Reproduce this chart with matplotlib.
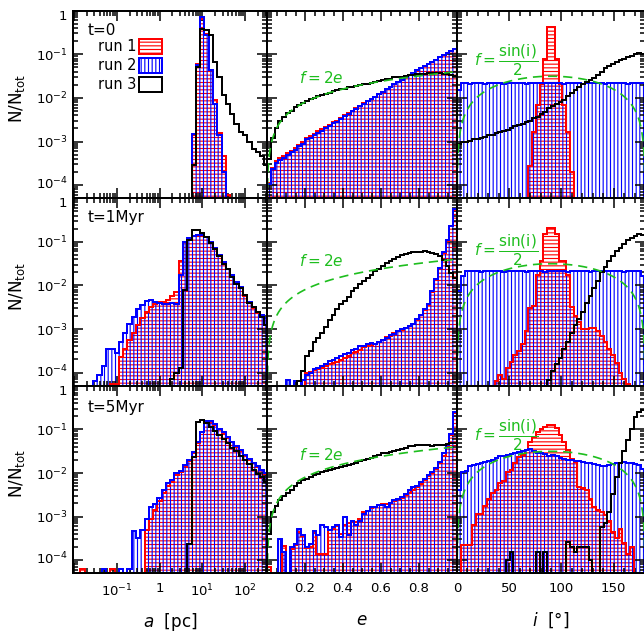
import numpy as np
import matplotlib
matplotlib.use("Agg")
import matplotlib.pyplot as plt
from matplotlib.patches import Rectangle
from matplotlib.transforms import ScaledTranslation
from matplotlib.ticker import FixedLocator, MultipleLocator, LogLocator, FuncFormatter, NullFormatter

DPI = 110
plt.rcParams['font.family'] = ['DejaVu Sans']
plt.rcParams['mathtext.fontset'] = 'dejavusans'
plt.rcParams['hatch.linewidth'] = 0.75

FLOOR = 1e-9          # empty bins sit far below the axis
A_BIN = 0.1           # dex
E_BIN = 0.02
I_BIN = 3.6           # degrees

# log10(N/Ntot) per bin, None = empty bin
# semimajor axis, bin centres log10(a) = -2.0 ... 2.5
a_t0_run1 = [None] * 28 + [-2.85, -1.22, -0.18, -0.54, -1.35, -2.05, -2.8, -3.33, -4.23]
a_t0_run2 = [None] * 28 + [-2.83, -1.25, -0.15, -0.56, -1.37, -2.13, -2.86, -3.71]
a_t0_run3 = [None] * 28 + [-3.55, -1.3, -0.43, -0.45, -0.56, -1.17, -1.52, -1.94, -2.13, -2.37,
                           -2.6, -2.79, -2.86, -3.02, -3.17, -3.25, -3.33, -3.55]

a_t1_run1 = [None] * 9 + [-4.25, -4.25, -3.65, -3.45, -3.25, -3.1, -2.9, -2.75, -2.6, -2.5,
                          -2.42, -2.38, -2.37, -2.33, -2.25, -2.15, -1.45, -1.0, -0.93, -0.87,
                          -0.84, -0.84, -0.9, -1.01, -1.17, -1.32, -1.47, -1.63, -1.78, -1.94,
                          -2.05, -2.24, -2.4, -2.51, -2.63, -2.7, -2.75]
a_t1_run2 = [None] * 5 + [-4.2, -4.05, -3.85, -3.45, -3.45, -3.55, -3.3, -3.1, -2.88, -2.72,
                          -2.55, -2.45, -2.35, -2.33, -2.38, -2.4, -2.42, -2.42, -2.4, -2.42,
                          -1.75, -1.0, -0.92, -0.86, -0.84, -0.84, -0.9, -1.0, -1.15, -1.3,
                          -1.46, -1.62, -1.76, -1.92, -2.03, -2.22, -2.38, -2.5, -2.62, -2.68,
                          -2.75]
a_t1_run3 = [None] * 23 + [-4.15, -4.0, -3.9, -2.1, -0.95, -0.72, -0.72, -0.8, -0.88, -1.02,
                           -1.17, -1.32, -1.5, -1.62, -1.8, -1.97, -2.05, -2.22, -2.4, -2.5,
                           -2.62, -2.72, -2.9]

a_t5_run1 = [None] * 2 + [-4.2, None, None, None, None, None, None, -4.2, None, None,
                          None, None, None, None, None, -3.3, -3.05, -2.85, -2.65, -2.45,
                          -2.3, -2.2, -2.05, -1.98, -1.84, -1.72, -1.55, -1.32, -1.07, -0.82,
                          -0.82, -0.9, -1.0, -1.09, -1.19, -1.3, -1.4, -1.5, -1.6, -1.7,
                          -1.78, -1.85, -1.94, -2.02]
a_t5_run2 = [None] * 7 + [-4.2, None, None, None, -4.2, None, -4.2, -3.32, -3.5, -3.3,
                          -3.05, -2.78, -2.72, -2.58, -2.4, -2.22, -2.17, -2.01, -1.96, -1.82,
                          -1.71, -1.51, -1.3, -1.05, -0.8, -0.8, -0.88, -0.98, -1.07, -1.17,
                          -1.28, -1.38, -1.48, -1.58, -1.68, -1.76, -1.84, -1.93, -2.0]
a_t5_run3 = [None] * 27 + [-3.63, -1.63, -0.82, -0.78, -0.85, -0.95, -1.03, -1.12, -1.22, -1.32,
                           -1.42, -1.5, -1.6, -1.7, -1.8, -1.92, -2.02, -2.1, -2.2]

# eccentricity, bin centres 0.01 ... 0.99
e_t0_run1 = [-3.95, -3.6, -3.45, -3.38, -3.33, -3.27, -3.22, -3.16, -3.07, -3.01,
             -2.92, -2.88, -2.82, -2.77, -2.72, -2.67, -2.62, -2.56, -2.52, -2.46,
             -2.4, -2.35, -2.29, -2.24, -2.18, -2.12, -2.07, -2.02, -1.97, -1.91,
             -1.86, -1.8, -1.75, -1.69, -1.64, -1.58, -1.53, -1.48, -1.43, -1.37,
             -1.32, -1.27, -1.22, -1.17, -1.12, -1.07, -1.02, -0.97, -0.92, -0.87]
e_t0_run2 = [-3.98, -3.63, -3.5, -3.42, -3.38, -3.3, -3.25, -3.2, -3.1, -3.05,
             -2.95, -2.92, -2.85, -2.8, -2.76, -2.7, -2.65, -2.58, -2.55, -2.48,
             -2.42, -2.37, -2.3, -2.25, -2.19, -2.13, -2.08, -2.03, -1.97, -1.92,
             -1.86, -1.8, -1.75, -1.69, -1.64, -1.58, -1.53, -1.48, -1.42, -1.37,
             -1.32, -1.27, -1.22, -1.17, -1.12, -1.07, -1.02, -0.97, -0.92, -0.87]
e_t0_run3 = [-3.4, -2.92, -2.7, -2.53, -2.44, -2.35, -2.29, -2.21, -2.17, -2.11,
             -2.08, -2.03, -2.0, -1.96, -1.94, -1.9, -1.88, -1.85, -1.83, -1.8,
             -1.79, -1.76, -1.75, -1.72, -1.71, -1.68, -1.67, -1.65, -1.64, -1.61,
             -1.59, -1.57, -1.56, -1.53, -1.53, -1.51, -1.5, -1.48, -1.48, -1.46,
             -1.46, -1.45, -1.44, -1.44, -1.44, -1.44, -1.45, -1.46, -1.48, -1.5]

e_t1_run1 = [None] * 10 + [-4.0, -3.98, -3.95, -3.92, -3.9, -3.85, -3.8, -3.78, -3.75, -3.7,
                           -3.66, -3.62, -3.55, -3.52, -3.48, -3.42, -3.4, -3.37, -3.35, -3.3,
                           -3.25, -3.18, -3.15, -3.1, -3.05, -3.02, -2.97, -2.92, -2.88, -2.8,
                           -2.68, -2.57, -2.45, -2.15, -1.88, -1.6, -1.26, -0.98, -0.64, -0.26]
e_t1_run2 = [None, None, None, None, None, -4.16, None, -4.2, None, -4.16,
             -4.05, -4.0, -3.92, -3.9, -3.85, -3.8, -3.74, -3.72, -3.66, -3.62,
             -3.58, -3.55, -3.48, -3.45, -3.4, -3.38, -3.34, -3.33, -3.35, -3.3,
             -3.26, -3.2, -3.13, -3.12, -3.05, -3.0, -2.97, -2.93, -2.88, -2.78,
             -2.67, -2.55, -2.43, -2.13, -1.86, -1.59, -1.24, -0.97, -0.63, -0.25]
e_t1_run3 = [None] * 8 + [-4.2, -3.97, -3.62, -3.5, -3.3, -3.2, -3.1, -2.95, -2.8, -2.68,
                          -2.55, -2.42, -2.35, -2.26, -2.12, -2.05, -1.97, -1.9, -1.84, -1.75,
                          -1.68, -1.62, -1.55, -1.48, -1.43, -1.39, -1.34, -1.31, -1.28, -1.26,
                          -1.24, -1.23, -1.23, -1.22, -1.23, -1.25, -1.27, -1.33, -1.42, -1.55,
                          -1.72, -1.82]

e_t5_run1 = [-4.16, None, None, None, -3.67, None, -3.75, -3.65, -3.35, -3.45,
             -3.72, -3.7, -3.36, -3.86, -3.86, -3.86, -3.3, -3.28, -3.22, -3.4,
             -3.2, -3.15, -3.1, -3.12, -3.05, -2.9, -2.86, -2.8, -2.78, -2.74,
             -2.72, -2.72, -2.68, -2.65, -2.6, -2.58, -2.5, -2.45, -2.38, -2.32,
             -2.25, -2.17, -2.08, -2.0, -1.9, -1.78, -1.6, -1.38, -1.12, -0.62]
e_t5_run2 = [None, None, None, -3.51, -3.82, None, -3.7, -3.63, -3.28, -3.43,
             -3.7, -3.63, -3.32, -3.43, -3.2, -3.24, -3.3, -3.24, -3.2, -3.47,
             -3.0, -3.43, -3.09, -3.2, -3.09, -2.95, -2.86, -2.78, -2.78, -2.74,
             -2.74, -2.78, -2.68, -2.63, -2.59, -2.55, -2.47, -2.4, -2.33, -2.3,
             -2.2, -2.13, -2.05, -1.97, -1.88, -1.75, -1.55, -1.35, -1.1, -0.6]
e_t5_run3 = [-3.4, -2.9, -2.75, -2.63, -2.52, -2.45, -2.38, -2.3, -2.22, -2.17,
             -2.13, -2.09, -2.05, -2.02, -1.98, -1.96, -1.93, -1.9, -1.88, -1.86,
             -1.84, -1.81, -1.79, -1.76, -1.73, -1.7, -1.68, -1.66, -1.62, -1.58,
             -1.55, -1.53, -1.52, -1.5, -1.48, -1.46, -1.42, -1.38, -1.37, -1.36,
             -1.36, -1.35, -1.36, -1.37, -1.36, -1.36, -1.36, -1.33, -1.32, -1.32]

# inclination, bin centres 1.8 ... 178.2 deg
i_t0_run1 = [None] * 19 + [-3.56, -2.79, -2.17, -1.67, -1.1, -0.38, -0.38, -1.1, -1.67, -2.17,
                           -2.79, -3.7] + [None] * 19
i_t0_run2 = [-1.83, -1.66, -1.65, -1.67, -1.66, -1.65, -1.66, -1.67, -1.66, -1.65,
             -1.66, -1.66, -1.67, -1.65, -1.66, -1.66, -1.65, -1.66, -1.67, -1.66,
             -1.66, -1.65, -1.66, -1.66, -1.66, -1.66, -1.65, -1.66, -1.67, -1.66,
             -1.65, -1.66, -1.66, -1.67, -1.66, -1.65, -1.66, -1.66, -1.66, -1.67,
             -1.65, -1.66, -1.66, -1.66, -1.65, -1.67, -1.66, -1.66, -1.65, -1.66]
i_t0_run3 = [-3.05, -3.02, -3.0, -2.98, -2.95, -2.94, -2.91, -2.89, -2.86, -2.84,
             -2.81, -2.79, -2.77, -2.74, -2.69, -2.65, -2.62, -2.59, -2.56, -2.52,
             -2.47, -2.43, -2.38, -2.32, -2.24, -2.19, -2.14, -2.1, -2.05, -1.96,
             -1.88, -1.82, -1.76, -1.68, -1.64, -1.6, -1.55, -1.48, -1.4, -1.32,
             -1.27, -1.23, -1.18, -1.14, -1.1, -1.07, -1.03, -1.0, -0.98, -1.0]

i_t1_run1 = [None] * 10 + [-4.2, -4.05, -4.15, -3.9, -3.75, -3.6, -3.5, -3.35, -3.05, -2.51,
                           -2.47, -1.75, -1.45, -0.82, -0.68, -0.68, -0.82, -1.45, -1.45, -1.75,
                           -2.5, -2.7, -2.85, -3.0, -3.0, -2.98, -2.98, -3.05, -3.15, -3.3,
                           -3.45, -3.6, -3.78, -4.0, -4.15, -4.25]
i_t1_run2 = [-2.13, -1.78, -1.68, -1.68, -1.67, -1.68, -1.69, -1.68, -1.68, -1.67,
             -1.68, -1.68, -1.69, -1.68, -1.67, -1.68, -1.68, -1.68, -1.69, -1.68,
             -1.67, -1.68, -1.68, -1.69, -1.68, -1.68, -1.67, -1.68, -1.68, -1.69,
             -1.68, -1.67, -1.68, -1.68, -1.68, -1.69, -1.68, -1.67, -1.68, -1.68,
             -1.68, -1.68, -1.67, -1.68, -1.69, -1.68, -1.68, -1.67, -1.68, -1.78]
i_t1_run3 = [None] * 24 + [-4.16, -3.97, -3.8, -3.66, -3.45, -3.3, -3.1, -2.9, -2.78, -2.6,
                           -2.4, -2.25, -2.05, -1.9, -1.7, -1.58, -1.45, -1.32, -1.22, -1.14,
                           -1.06, -0.97, -0.92, -0.86, -0.82, -0.85]

i_t5_run1 = [None, -3.66, -3.66, -3.66, -3.2, -2.95, -2.93, -2.75, -2.59, -2.45,
             -2.4, -2.22, -2.18, -1.98, -1.92, -1.78, -1.63, -1.58, -1.47, -1.3,
             -1.17, -1.05, -1.0, -0.95, -0.9, -0.9, -0.97, -1.13, -1.3, -1.47,
             -1.68, -1.74, -2.32, -2.35, -2.4, -2.6, -2.78, -2.85, -2.9, -2.97,
             -3.1, -3.36, -3.5, -3.28, -3.6, -3.86, -3.7, None, None, None]
i_t5_run2 = [-2.4, -1.97, -1.95, -1.85, -1.82, -1.8, -1.76, -1.75, -1.72, -1.7,
             -1.66, -1.62, -1.6, -1.59, -1.56, -1.53, -1.52, -1.5, -1.47, -1.46,
             -1.5, -1.53, -1.55, -1.57, -1.6, -1.58, -1.62, -1.65, -1.67, -1.7,
             -1.7, -1.72, -1.73, -1.75, -1.76, -1.77, -1.8, -1.82, -1.84, -1.84,
             -1.82, -1.8, -1.78, -1.76, -1.75, -1.78, -1.78, -1.8, -1.82, -1.9]
i_t5_run3 = [None] * 13 + [-4.0, -3.82] + [None] * 6 + [-3.82, None, -3.82] + [None] * 5 + \
            [-3.59, -3.7, -3.82, -3.7, -3.7, -3.7, -4.0, None, None, -3.24,
             -3.15, -2.9, -2.47, -2.09, -1.78, -1.5, -1.24, -1.0, -0.71, -0.6, -0.55]

times = ['t=0', 't=1Myr', 't=5Myr']
a_runs = [(a_t0_run1, a_t0_run2, a_t0_run3), (a_t1_run1, a_t1_run2, a_t1_run3), (a_t5_run1, a_t5_run2, a_t5_run3)]
e_runs = [(e_t0_run1, e_t0_run2, e_t0_run3), (e_t1_run1, e_t1_run2, e_t1_run3), (e_t5_run1, e_t5_run2, e_t5_run3)]
i_runs = [(i_t0_run1, i_t0_run2, i_t0_run3), (i_t1_run1, i_t1_run2, i_t1_run3), (i_t5_run1, i_t5_run2, i_t5_run3)]

a_edges = 10 ** (np.arange(47) * A_BIN - 2.05)
e_edges = np.linspace(0, 1, 51)
i_edges = np.linspace(0, 180, 51)

GREEN = '#1ebe1e'


def to_counts(logs, n):
    vals = list(logs) + [None] * (n - len(logs))
    assert len(vals) == n, (len(logs), n)
    return np.array([10.0 ** v if v is not None else FLOOR for v in vals])


def draw_hists(ax, edges, r1, r2, r3):
    n = len(edges) - 1
    c1, c2, c3 = to_counts(r1, n), to_counts(r2, n), to_counts(r3, n)
    ax.stairs(c1, edges, baseline=FLOOR, fill=True, facecolor='none', edgecolor='red',
              hatch='-----', lw=0, zorder=1)
    ax.stairs(c2, edges, baseline=FLOOR, fill=True, facecolor='none', edgecolor='blue',
              hatch='|||||', lw=0, zorder=1.1)
    ax.stairs(c1, edges, baseline=FLOOR, color='red', lw=1.3, zorder=2)
    ax.stairs(c2, edges, baseline=FLOOR, color='blue', lw=1.3, zorder=2.1)
    ax.stairs(c3, edges, baseline=FLOOR, color='black', lw=1.3, zorder=2.2)


def pow_label(v, pos):
    k = int(round(np.log10(v)))
    if k == 0:
        return r'$1$'
    return r'$10^{%d}$' % k


def a_label(v, pos):
    if v < 0.05:
        return ''
    return pow_label(v, pos)


def e_label(v, pos):
    if v < 0.01 or v > 0.99:
        return ''
    return '%.1f' % v


fig = plt.figure(figsize=(644 / DPI, 635 / DPI), dpi=DPI)
W, H = 644.0, 635.0
col_x = [73, 267, 457]
col_w = [194, 190, 188]
row_top = [10.7, 198.2, 385.8]
row_h = 187.5
left_axes = []

for r in range(3):
    for c in range(3):
        ax = fig.add_axes([col_x[c] / W, 1 - (row_top[r] + row_h) / H, col_w[c] / W, row_h / H])
        ax.set_yscale('log')
        ax.set_ylim(10 ** -4.3, 1)
        ax.yaxis.set_major_locator(FixedLocator([1e-4, 1e-3, 1e-2, 1e-1, 1]))
        ax.yaxis.set_minor_locator(LogLocator(base=10, subs=np.arange(2, 10), numticks=20))
        ax.yaxis.set_minor_formatter(NullFormatter())
        ax.yaxis.set_major_formatter(FuncFormatter(pow_label))

        if c == 0:
            ax.set_xscale('log')
            ax.set_xlim(10 ** -2.02, 10 ** 2.51)
            ax.xaxis.set_major_locator(FixedLocator([1e-2, 1e-1, 1, 10, 100]))
            ax.xaxis.set_minor_locator(LogLocator(base=10, subs=np.arange(2, 10), numticks=20))
            ax.xaxis.set_minor_formatter(NullFormatter())
            ax.xaxis.set_major_formatter(FuncFormatter(a_label))
            draw_hists(ax, a_edges, *a_runs[r])
            left_axes.append(ax)
        elif c == 1:
            ax.set_xlim(0, 1)
            ax.xaxis.set_major_locator(MultipleLocator(0.2))
            ax.xaxis.set_minor_locator(MultipleLocator(0.05))
            ax.xaxis.set_major_formatter(FuncFormatter(e_label))
            draw_hists(ax, e_edges, *e_runs[r])
            eg = np.linspace(0.001, 1, 400)
            ax.plot(eg, 2 * eg * E_BIN, color=GREEN, lw=1.1, dashes=(5.5, 3.5), zorder=3)
            fy = [0.643, 0.663, 0.633][r]
            ax.text(0.287, fy, r'$f=2e$', color=GREEN, fontsize=10, ha='center', va='center',
                    transform=ax.transAxes, zorder=4)
        else:
            ax.set_xlim(0, 180)
            ax.xaxis.set_major_locator(MultipleLocator(50))
            ax.xaxis.set_minor_locator(MultipleLocator(10))
            draw_hists(ax, i_edges, *i_runs[r])
            ig = np.linspace(0.2, 179.8, 400)
            ax.plot(ig, 0.5 * np.sin(np.deg2rad(ig)) * np.deg2rad(I_BIN), color=GREEN, lw=1.1,
                    dashes=(5.5, 3.5), zorder=3)
            fy = [0.737, 0.724, 0.738][r]
            ax.text(0.09, fy, r'$f=\dfrac{\mathrm{sin(i)}}{2}$', color=GREEN, fontsize=10,
                    ha='left', va='center', transform=ax.transAxes, zorder=4)

        ax.tick_params(which='both', direction='in', top=True, right=True, width=1.0,
                       labelsize=8.7, labelleft=(c == 0), labelbottom=(r == 2))
        ax.tick_params(which='major', length=6.5)
        ax.tick_params(which='minor', length=3.3)
        ax.tick_params(axis='y', pad=3.5)
        ax.tick_params(axis='x', pad=6)
        for s in ax.spines.values():
            s.set_linewidth(1.3)
            s.set_zorder(5)

        if c == 0:
            ax.text(0.077, [0.897, 0.899, 0.885][r], times[r], fontsize=10,
                    ha='left', va='center', transform=ax.transAxes)
            ax.text(-0.289, 0.53, r'$\mathrm{N/N_{tot}}$', fontsize=11, rotation=90,
                    ha='center', va='center', transform=ax.transAxes)
        if r == 0 and c == 0:
            styles = [('run 1', 'red', '-----'), ('run 2', 'blue', '|||||'), ('run 3', 'black', None)]
            box_y = [0.769, 0.669, 0.568]
            for (name, col, hat), by in zip(styles, box_y):
                ax.text(0.327, by + 0.039, name, fontsize=9.5, ha='right', va='center',
                        transform=ax.transAxes)
                ax.add_patch(Rectangle((0.342, by), 0.115, 0.078, transform=ax.transAxes,
                                       facecolor='none', edgecolor=col, hatch=hat, lw=1.3,
                                       zorder=6))
        if r == 2:
            xl = [r'$a$  [pc]', r'$e$', r'$i$  [$\degree$]'][c]
            ax.set_xlabel(xl, fontsize=11)
            ax.xaxis.set_label_coords(0.5, -0.2)

# panels are stacked without gaps: keep the "1" at each panel top clear of the
# "10^-4" label of the panel above
fig.canvas.draw()
for ax in left_axes:
    for tick in ax.yaxis.get_major_ticks():
        if np.isclose(tick.get_loc(), 1.0):
            shift = ScaledTranslation(0, -2.5 / 72, fig.dpi_scale_trans)
        elif np.isclose(tick.get_loc(), 1e-4):
            shift = ScaledTranslation(0, 1.5 / 72, fig.dpi_scale_trans)
        else:
            continue
        tick.label1.set_transform(tick.label1.get_transform() + shift)

fig.savefig('out.png', dpi=DPI)
